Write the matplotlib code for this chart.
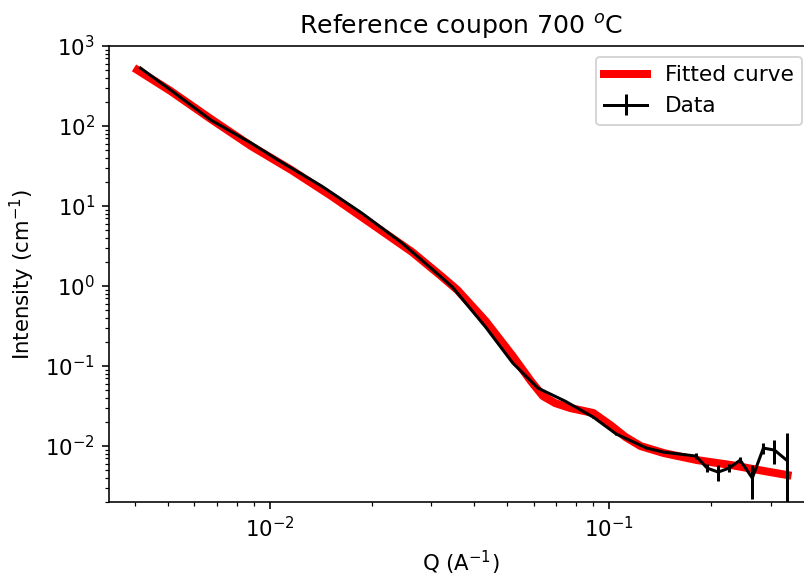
import matplotlib
matplotlib.use("Agg")
import matplotlib.pyplot as plt
import numpy as np

# Measured data (black, with error bars)
q_data = [0.004159, 0.005105, 0.006710, 0.008819, 0.01082, 0.01422, 0.01869,
          0.02457, 0.03229, 0.03458, 0.04333, 0.05211, 0.06181, 0.07432,
          0.09000, 0.1053, 0.1293, 0.1452, 0.1807, 0.1949, 0.2101, 0.2264,
          0.2440, 0.2649, 0.2856, 0.3079, 0.3342]
i_data = [531, 282, 118.9, 61.3, 35.5, 17.8, 8.17,
          3.45, 1.26, 0.972, 0.307, 0.109, 0.0531, 0.0365,
          0.0230, 0.0141, 0.00944, 0.00841, 0.00750, 0.00531, 0.00473, 0.00531,
          0.00668, 0.00398, 0.00944, 0.00891, 0.00668]
err_data = [2.0, 1.0, 0.5, 0.2, 0.1, 0.05, 0.02,
            0.01, 0.004, 0.003, 0.001, 0.0005, 0.0003, 0.0003,
            0.0003, 0.0004, 0.0003, 0.0003, 0.0007, 0.0006, 0.00106, 0.0006,
            0.0006, 0.0018, 0.0015, 0.003, 0.0079]

# Fitted model curve (red)
q_fit = [0.004075, 0.005105, 0.006710, 0.008819, 0.01159, 0.01523, 0.02002,
         0.02631, 0.03229, 0.03578, 0.04333, 0.05211, 0.05892, 0.06394,
         0.06941, 0.07692, 0.09000, 0.1011, 0.1120, 0.1241, 0.1452, 0.1820,
         0.2296, 0.2876, 0.3365]
i_fit = [501, 273.8, 122.3, 56.2, 28.2, 13.3, 5.96,
         2.66, 1.296, 0.891, 0.365, 0.133, 0.0649, 0.0422,
         0.0345, 0.0299, 0.0259, 0.0183, 0.01297, 0.0100, 0.00818, 0.00668,
         0.00579, 0.00487, 0.00434]

plt.rcParams['font.size'] = 10.6

fig = plt.figure(figsize=(804/144, 578/144), dpi=144)
ax = fig.add_axes([109/804, 76/578, (813-109)/804, (502-46)/578])

ax.plot(q_fit, i_fit, color='red', lw=4, label='Fitted curve', zorder=2)
ax.errorbar(q_data, i_data, yerr=err_data, color='black', lw=1.5,
            elinewidth=1.5, label='Data', zorder=3)

ax.set_xscale('log')
ax.set_yscale('log')
ax.set_xlim(0.00336, 0.40)
ax.set_ylim(2e-3, 1e3)
ax.tick_params(labelsize=10.6)
ax.set_xlabel('Q (A$^{-1}$)', fontsize=10.6)
ax.set_ylabel('Intensity (cm$^{-1}$)', fontsize=10.6)
ax.set_title('Reference coupon 700 $^o$C', fontsize=12.6)
ax.legend(loc='upper right', fontsize=10.8)

fig.savefig('out.png', dpi=144)
